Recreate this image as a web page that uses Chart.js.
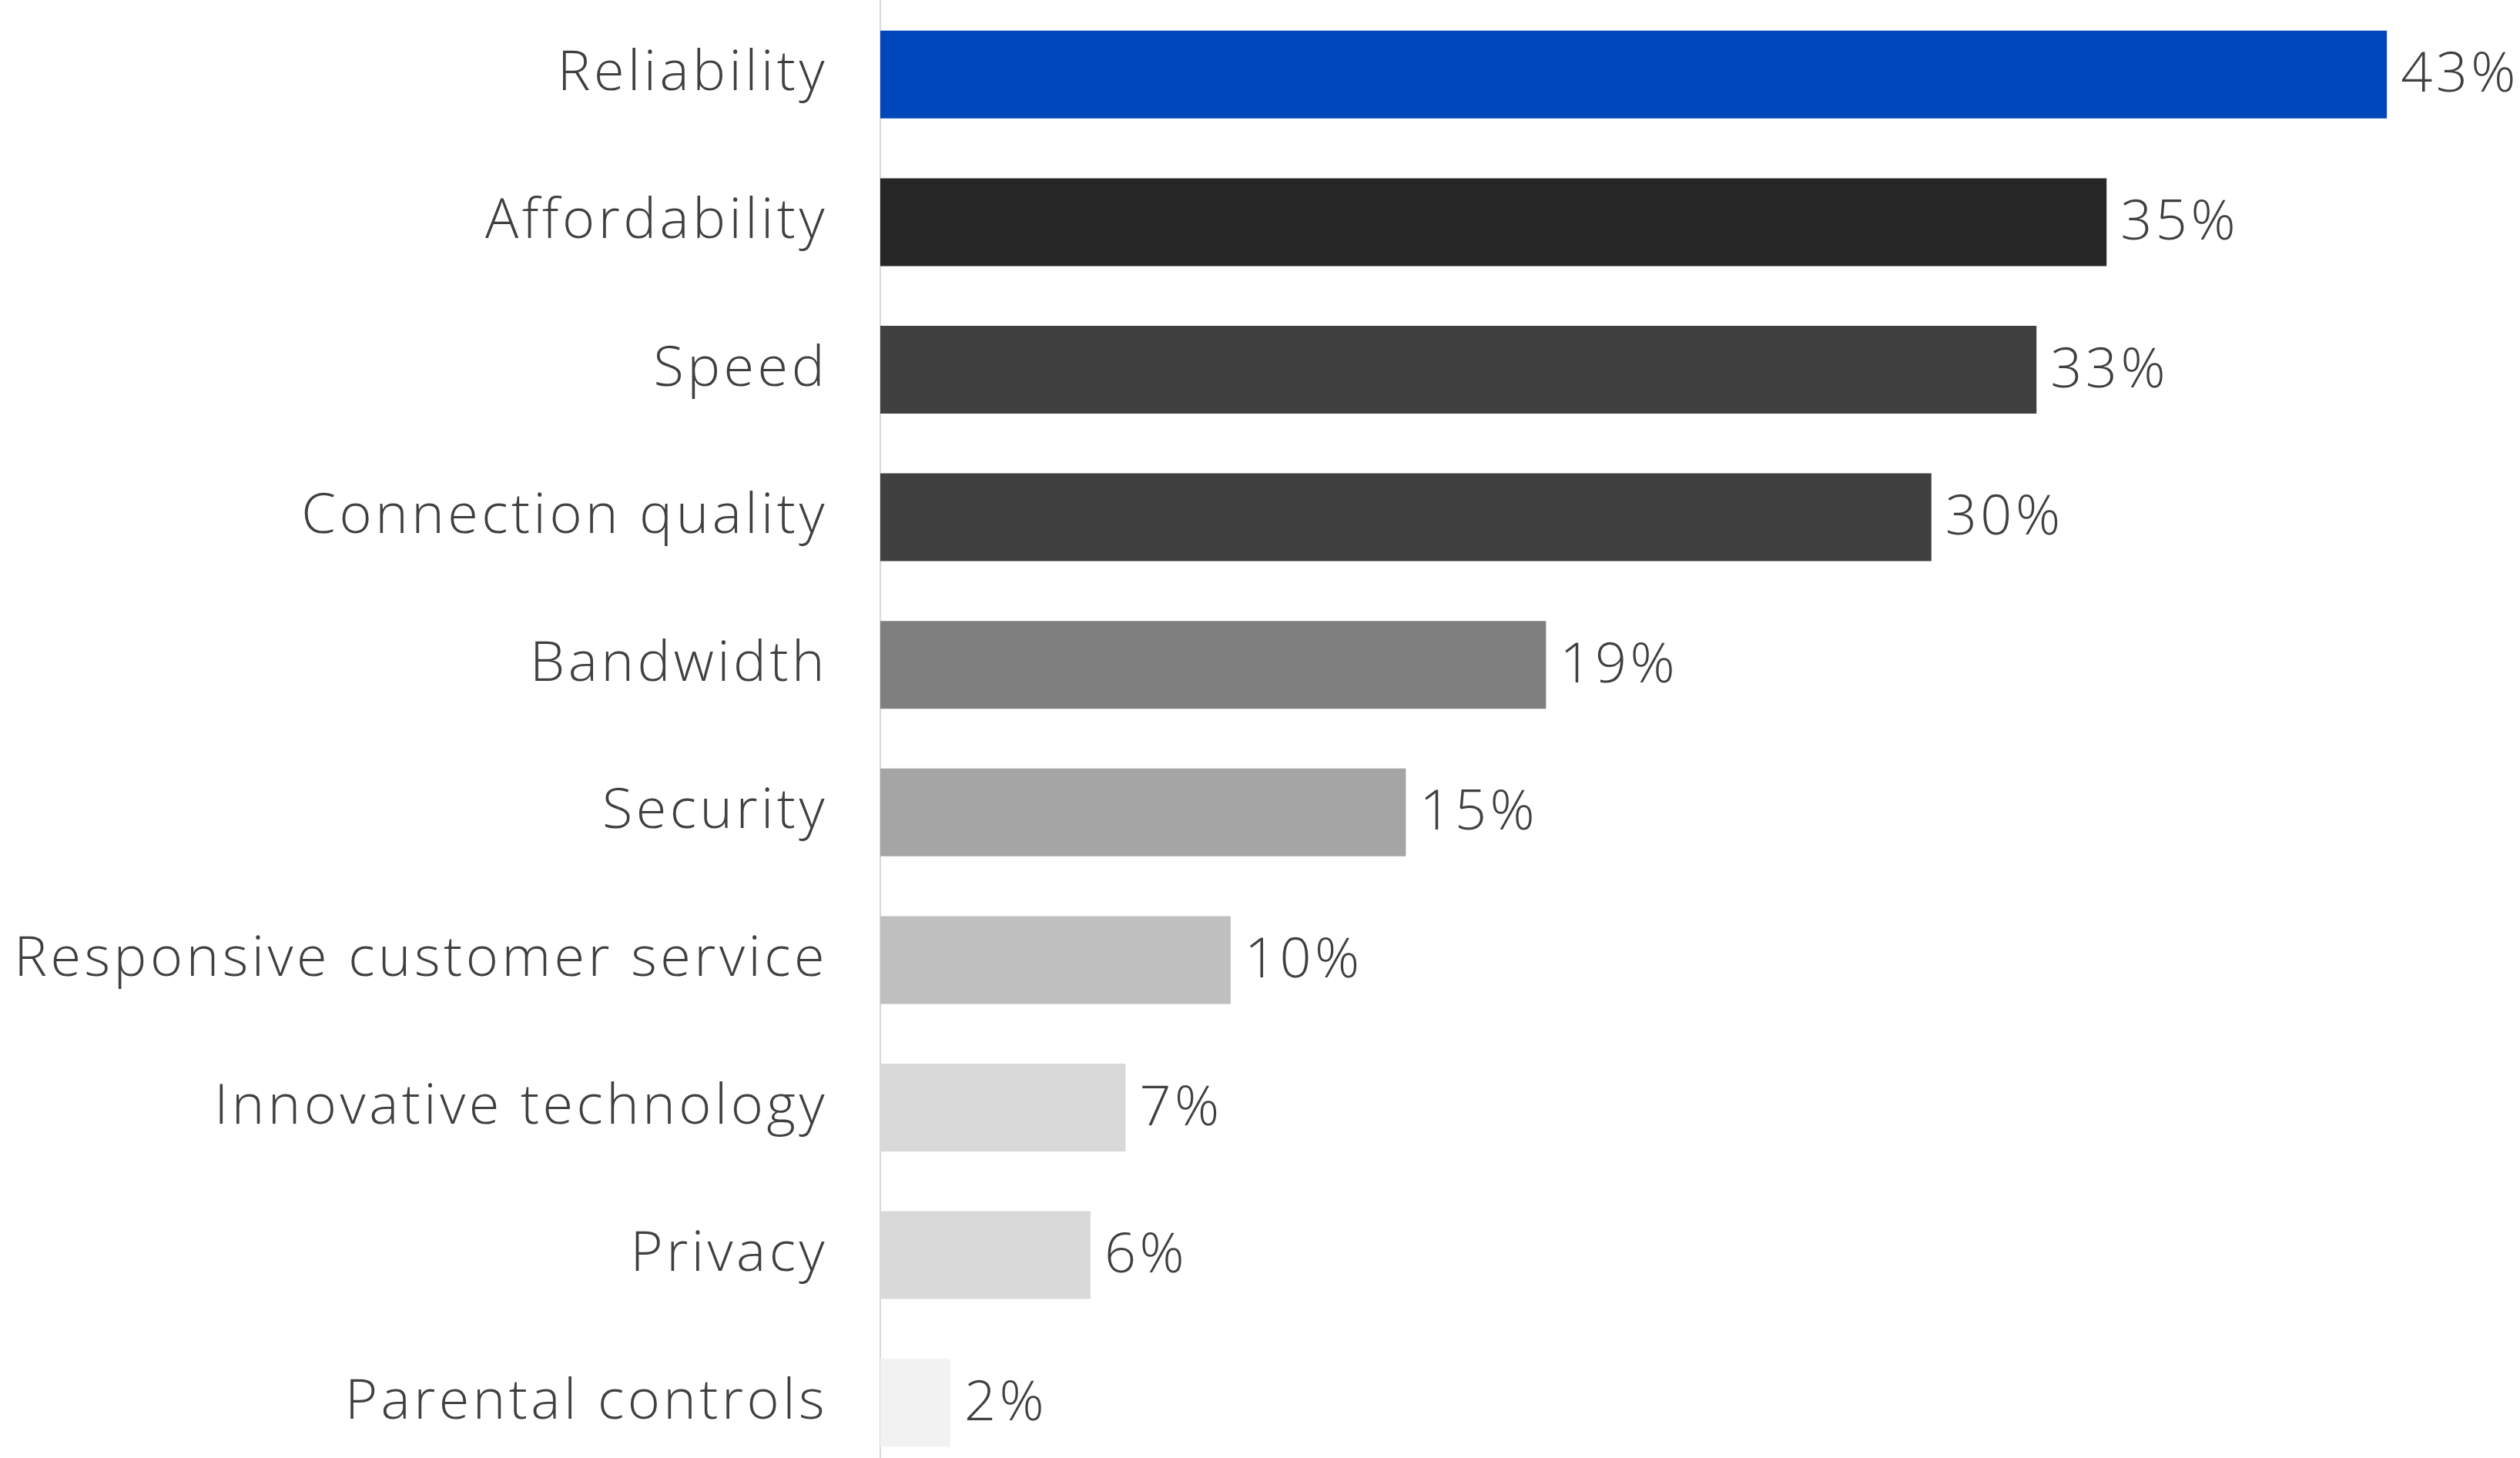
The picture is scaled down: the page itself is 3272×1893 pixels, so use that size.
<!DOCTYPE html>
<html lang="en">
<head>
  <meta charset="UTF-8" />
  <title>Top ISP priorities</title>
  <script src="https://cdn.jsdelivr.net/npm/chart.js"></script>
  <style>
    html, body {
      margin: 0;
      padding: 0;
      background: #ffffff;
      overflow: hidden;
    }
    #wrap {
      width: 3272px;
      height: 1917px;
    }
  </style>
</head>
<body>
  <div id="wrap"><canvas id="priorities" width="3272" height="1917"></canvas></div>

<script>
const categories = [
  "Reliability",
  "Affordability",
  "Speed",
  "Connection quality",
  "Bandwidth",
  "Security",
  "Responsive customer service",
  "Innovative technology",
  "Privacy",
  "Parental controls"
];

const shares = [43, 35, 33, 30, 19, 15, 10, 7, 6, 2];

const barColors = [
  "#0047BB", "#262626", "#404040", "#404040", "#7F7F7F",
  "#A5A5A5", "#BFBFBF", "#D9D9D9", "#D9D9D9", "#F2F2F2"
];

const textColor = "#404040";
const fontFamily = "'Open Sans', 'Lato', sans-serif";
const tracking = "4.5px";

// widen the light face a little
const letterSpacing = {
  id: "letterSpacing",
  beforeDraw(chart) {
    chart.ctx.letterSpacing = tracking;
  }
};

// prints "NN%" just past the end of each bar
const valueLabels = {
  id: "valueLabels",
  afterDatasetsDraw(chart) {
    const ctx = chart.ctx;
    const meta = chart.getDatasetMeta(0);
    ctx.save();
    ctx.letterSpacing = tracking;
    ctx.font = "300 72px " + fontFamily;
    ctx.fillStyle = textColor;
    ctx.textAlign = "left";
    ctx.textBaseline = "middle";
    meta.data.forEach((bar, i) => {
      ctx.fillText(shares[i] + "%", bar.x + 18, bar.y + 2);
    });
    ctx.restore();
  }
};

new Chart(document.getElementById("priorities"), {
  type: "bar",
  data: {
    labels: categories,
    datasets: [{
      data: shares,
      backgroundColor: barColors,
      borderWidth: 0,
      categoryPercentage: 1,
      barPercentage: 0.595
    }]
  },
  options: {
    indexAxis: "y",
    responsive: false,
    animation: false,
    layout: { padding: { top: 1, right: 0, bottom: 0, left: 0 } },
    plugins: {
      legend: { display: false },
      tooltip: { enabled: false }
    },
    scales: {
      x: {
        display: false,
        min: 0,
        max: 46.8
      },
      y: {
        afterFit(scale) {
          scale.width = 1143;
          scale.paddingTop = 0;
          scale.paddingBottom = 0;
        },
        grid: { display: false, drawTicks: false },
        border: { display: true, color: "#D9D9D9", width: 2 },
        ticks: {
          color: textColor,
          padding: 68,
          font: { family: fontFamily, size: 72, weight: "300" }
        }
      }
    }
  },
  plugins: [letterSpacing, valueLabels]
});
</script>
</body>
</html>
